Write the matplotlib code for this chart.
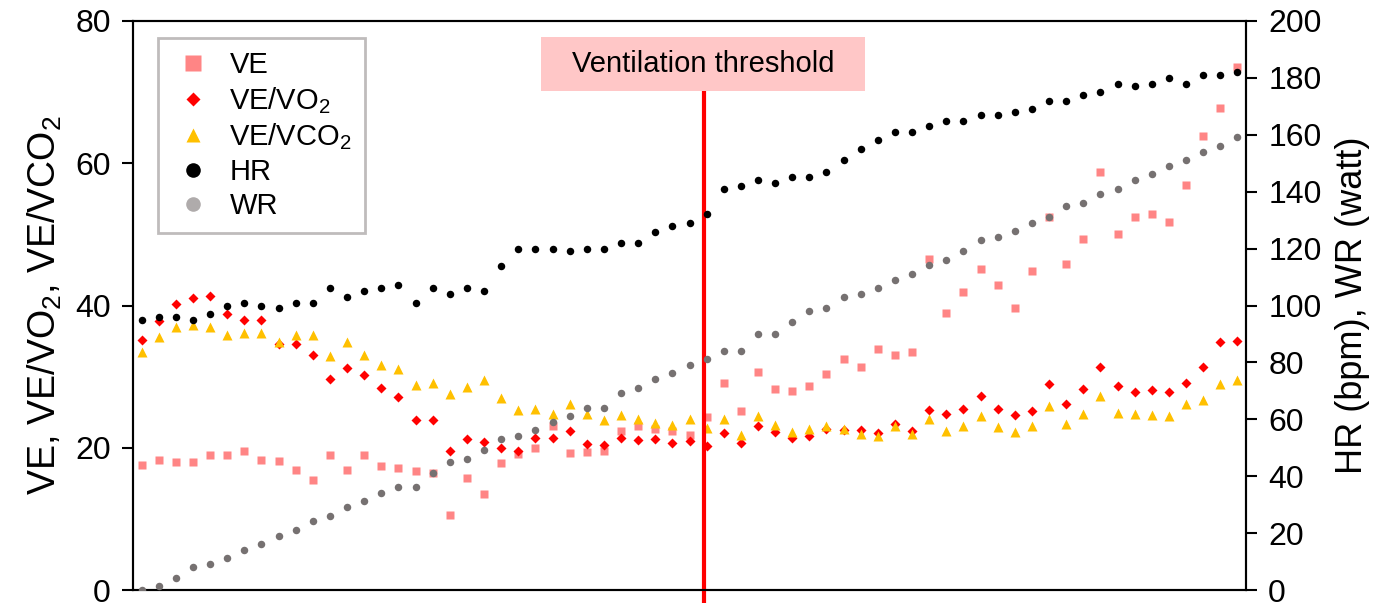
import matplotlib
matplotlib.use("Agg")
import matplotlib.pyplot as plt
from matplotlib.lines import Line2D
from matplotlib.patches import Rectangle
import numpy as np

plt.rcParams['font.family'] = ['Liberation Sans', 'DejaVu Sans']
plt.rcParams['mathtext.default'] = 'regular'

# ---- data (65 samples) ----
VE = [17.6, 18.3, 18.0, 18.0, 19.0, 19.0, 19.6, 18.3, 18.1, 16.9,
      15.5, 19.0, 16.9, 19.0, 17.5, 17.2, 16.8, 16.4, 10.6, 15.8,
      13.5, 17.9, 19.1, 19.9, 23.0, 19.3, 19.4, 19.5, 22.3, 23.1,
      22.6, 22.4, 21.8, 24.3, 29.1, 25.1, 30.7, 28.3, 28.0, 28.7,
      30.4, 32.5, 31.4, 33.9, 33.1, 33.5, 46.5, 38.9, 41.9, 45.2,
      42.9, 39.6, 44.9, 52.5, 45.9, 49.4, 58.7, 50.1, 52.5, 52.8,
      51.8, 57.0, 63.9, 67.8, 73.5]
VE_VO2 = [35.2, 37.8, 40.2, 41.0, 41.4, 38.8, 38.0, 38.0, 34.6, 34.6,
          33.0, 29.6, 31.2, 30.2, 28.4, 27.1, 23.9, 23.9, 19.5, 21.3,
          20.8, 20.0, 19.6, 21.4, 21.4, 22.4, 20.5, 20.4, 21.4, 21.1,
          21.3, 20.7, 20.9, 20.2, 22.1, 20.6, 23.1, 22.2, 21.4, 21.7,
          22.7, 22.5, 22.5, 22.1, 23.4, 22.3, 25.3, 24.8, 25.4, 27.3,
          25.4, 24.6, 25.1, 28.9, 26.2, 28.2, 31.3, 28.7, 27.8, 28.1,
          27.8, 29.1, 31.4, 34.8, 35.0]
VE_VCO2 = [33.4, 35.6, 37.0, 37.2, 37.0, 35.8, 36.1, 36.2, 34.8, 35.9,
           35.9, 32.9, 34.9, 33.0, 31.7, 31.1, 28.8, 29.1, 27.6, 28.5,
           29.5, 27.0, 25.3, 25.5, 24.7, 26.1, 24.8, 23.9, 24.6, 24.0,
           23.5, 23.2, 24.1, 22.8, 24.0, 21.8, 24.5, 23.2, 22.2, 22.7,
           23.0, 22.6, 21.9, 21.7, 23.1, 22.0, 24.0, 22.3, 23.0, 24.5,
           22.9, 22.2, 23.0, 25.8, 23.4, 24.7, 27.3, 24.9, 24.8, 24.6,
           24.4, 26.2, 26.7, 28.9, 29.5]
HR = [95.0, 96.1, 96.1, 95.0, 97.1, 99.9, 101.0, 99.9, 99.0, 101.0,
      101.0, 106.2, 103.1, 105.1, 106.2, 107.1, 101.0, 106.0, 104.0, 106.0,
      105.1, 114.0, 120.0, 120.0, 120.0, 119.0, 120.0, 120.0, 122.1, 122.1,
      126.0, 127.9, 129.0, 132.0, 141.1, 142.0, 144.0, 142.9, 145.1, 145.1,
      147.0, 151.1, 155.1, 158.0, 161.0, 161.0, 163.0, 165.0, 165.0, 167.1,
      167.1, 168.0, 169.0, 172.0, 172.0, 174.0, 175.0, 178.0, 177.0, 178.0,
      180.0, 178.0, 181.0, 181.0, 182.0]
WR = [0.0, 1.3, 4.1, 8.2, 9.1, 11.2, 14.1, 16.1, 19.1, 21.1,
      24.1, 26.1, 29.1, 31.2, 34.2, 36.2, 36.2, 41.1, 45.1, 46.2,
      49.1, 53.1, 54.1, 56.1, 59.1, 61.2, 64.0, 64.0, 69.1, 71.1,
      74.0, 76.2, 79.1, 81.1, 84.1, 84.1, 90.1, 90.1, 94.1, 98.1,
      99.1, 103.1, 104.1, 106.2, 109.1, 111.1, 114.1, 116.1, 119.1, 123.1,
      124.1, 126.1, 129.1, 131.1, 135.1, 136.0, 139.1, 141.1, 144.0, 146.1,
      149.1, 151.1, 154.1, 156.1, 159.1]
left_ticks = [0, 20, 40, 60, 80]
right_ticks = [0, 20, 40, 60, 80, 100, 120, 140, 160, 180, 200]
threshold_index = 32.85

labels = ['VE', 'VE/VO$_2$', 'VE/VCO$_2$', 'HR', 'WR']

c_ve = '#FF8585'
c_vo2 = '#FF0000'
c_vco2 = '#FFC000'
c_hr = '#000000'
c_wr = '#767171'
c_wr_leg = '#AFABAB'

W, H = 1400, 603
fig = plt.figure(figsize=(W / 100, H / 100), dpi=100)
ax = fig.add_axes([133 / W, 1 - 590 / H, (1246 - 133) / W, (590 - 21) / H])
ax2 = ax.twinx()

x = np.arange(len(VE))
ax.plot(x, VE, 's', color=c_ve, ms=5.8, mec='none', zorder=3)
ax.plot(x, VE_VO2, 'D', color=c_vo2, ms=5.3, mec='none', zorder=3)
ax.plot(x, VE_VCO2, '^', color=c_vco2, ms=7, mec='none', zorder=3)
ax2.plot(x, HR, 'o', color=c_hr, ms=5.4, mec='none', zorder=3)
ax2.plot(x, WR, 'o', color=c_wr, ms=5.4, mec='none', zorder=3)

ax.set_xlim(-0.5, len(VE) - 0.5)
ax.set_ylim(0, 80)
ax2.set_ylim(0, 200)
ax.set_yticks(left_ticks)
ax2.set_yticks(right_ticks)
ax.set_xticks([])
for a in (ax, ax2):
    for s in a.spines.values():
        s.set_linewidth(1.5)
    a.tick_params(axis='y', direction='out', length=8, width=1.5, labelsize=23, pad=8)

ax.set_ylabel('VE, VE/VO$_2$, VE/VCO$_2$', fontsize=27, labelpad=8)
ax2.set_ylabel('HR (bpm), WR (watt)', fontsize=26, labelpad=10)

# threshold line
trans = matplotlib.transforms.blended_transform_factory(ax.transData, ax.transAxes)
ax.plot([threshold_index, threshold_index], [-0.03, 0.877], color='#FF0000', lw=3,
        transform=trans, clip_on=False, zorder=5)
# label box
fig.patches.append(Rectangle((541 / W, 1 - 91 / H), (865 - 541) / W, (91 - 37) / H,
                             transform=fig.transFigure, facecolor='#FFC7C7',
                             edgecolor='none', zorder=6))
fig.text(703 / W, 1 - 64 / H, 'Ventilation threshold', ha='center', va='center',
         fontsize=21, zorder=7)

handles = [
    Line2D([], [], ls='none', marker='s', color=c_ve, ms=11, mec='none'),
    Line2D([], [], ls='none', marker='D', color=c_vo2, ms=7.5, mec='none'),
    Line2D([], [], ls='none', marker='^', color=c_vco2, ms=10.5, mec='none'),
    Line2D([], [], ls='none', marker='o', color=c_hr, ms=10.5, mec='none'),
    Line2D([], [], ls='none', marker='o', color=c_wr_leg, ms=10.5, mec='none'),
]
leg = ax.legend(handles, labels, loc='upper left', bbox_to_anchor=(158 / W, 1 - 38 / H),
                bbox_transform=fig.transFigure, fontsize=21, frameon=True, fancybox=False,
                edgecolor='#AFABAB', labelspacing=0.2, handletextpad=0.5,
                borderpad=0.45, handlelength=1.5, borderaxespad=0)
leg.get_frame().set_linewidth(2)
leg.set_zorder(10)

fig.savefig('out.png', dpi=100)
